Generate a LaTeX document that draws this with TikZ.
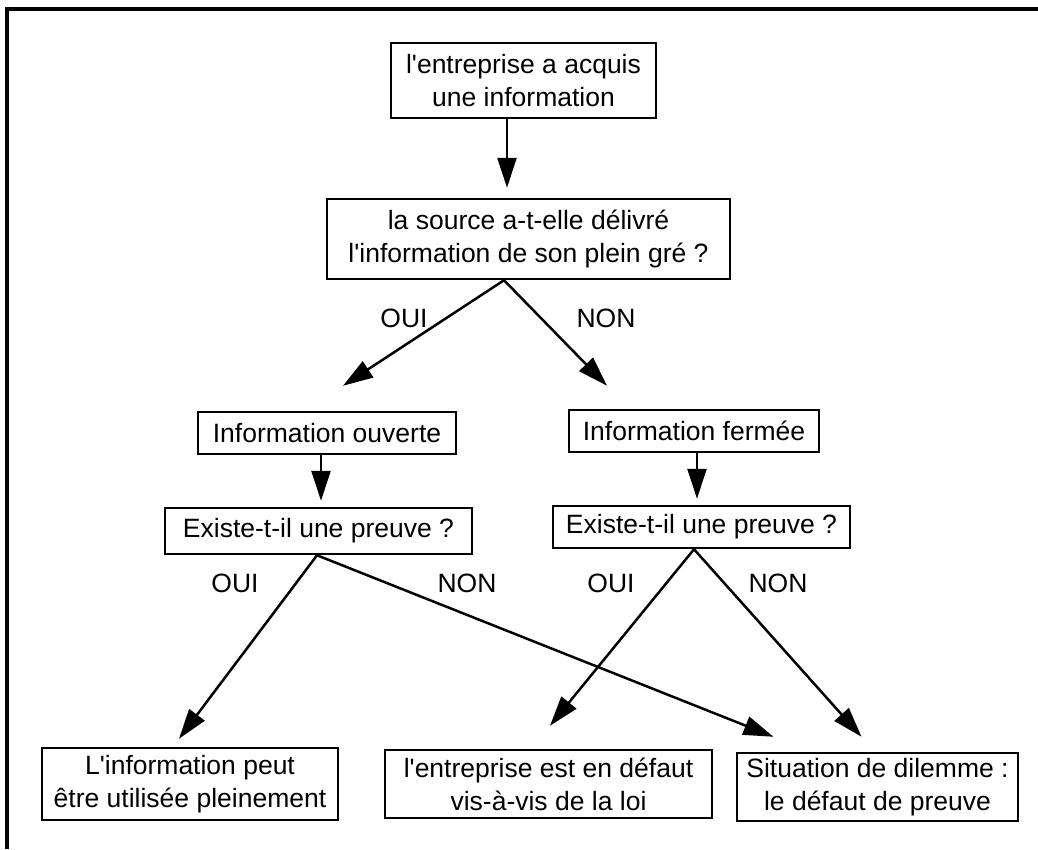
\documentclass[tikz,border=0pt]{standalone}
\usepackage{fontspec}
\newfontfamily\diagfont{Liberation Sans}
\usetikzlibrary{arrows.meta,calc}
\begin{document}
\begin{tikzpicture}[x=1pt,y=-1pt,
  box/.style={draw,line width=2.5pt,align=center,inner sep=0pt,
    font=\diagfont\fontsize{26.5}{33}\selectfont},
  lbl/.style={font=\diagfont\fontsize{26.5}{33}\selectfont,inner sep=0pt},
  flow/.style={line width=2.5pt,-{Triangle[length=30pt,width=19pt]}}]
\useasboundingbox (0,0) rectangle (1038,849);
% frame
\draw[line width=3.5pt] (7,849) -- (7,9) -- (1038,9);

% boxes
\node[box,minimum width=265pt,minimum height=75pt] (b1) at (523.5,80.5)
  {l'entreprise a acquis\\une information};
\node[box,minimum width=403pt,minimum height=80pt] (b2) at (528.5,239)
  {la source a-t-elle délivré\\l'information de son plein gré ?};
\node[box,minimum width=258pt,minimum height=42pt] (b3) at (327,433)
  {Information ouverte};
\node[box,minimum width=307pt,minimum height=46pt] (b4) at (318.5,531)
  {Existe-t-il une preuve ?};
\node[box,minimum width=250pt,minimum height=42pt] (b5) at (694,431)
  {Information fermée};
\node[box,minimum width=297pt,minimum height=42pt] (b6) at (701.5,527)
  {Existe-t-il une preuve ?};
\node[box,minimum width=296pt,minimum height=72pt] (b7) at (190,784)
  {L'information peut\\être utilisée pleinement};
\node[box,minimum width=327pt,minimum height=68pt] (b8) at (548.5,784)
  {l'entreprise est en défaut\\vis-à-vis de la loi};
\node[box,minimum width=281pt,minimum height=68pt] (b9) at (877.5,787)
  {Situation de dilemme :\\le défaut de preuve};

% labels
\node[lbl] (l1) at (404,318) {OUI};
\node[lbl] (l2) at (606,318) {NON};
\node[lbl] (l3) at (235,583) {OUI};
\node[lbl] (l4) at (467,583) {NON};
\node[lbl] (l5) at (611,583) {OUI};
\node[lbl] (l6) at (778,583) {NON};

% connectors
\draw[flow] ($(b1.south)+(-16.5,0)$) -- ($(b2.north)+(-21.5,-10)$);
\draw[flow] ($(b2.south)+(-24.5,0)$) -- ($(b3.north)+(16,-25)$);
\draw[flow] ($(b2.south)+(-24.5,0)$) -- ($(b5.north)+(-87,-23)$);
\draw[flow] ($(b3.south)+(-6,0)$) -- ($(b4.north)+(2.5,-6)$);
\draw[flow] ($(b5.south)+(3,0)$) -- ($(b6.north)+(-4.5,-6)$);
\draw[flow] ($(b4.south)+(-1.5,0)$) -- ($(b7.north)+(-11,-8)$);
\draw[flow] ($(b4.south)+(-1.5,0)$) -- ($(b9.north)+(-104,-15)$);
\draw[flow] ($(b6.south)+(-7.5,0)$) -- ($(b8.north)+(1.5,-23)$);
\draw[flow] ($(b6.south)+(-7.5,0)$) -- ($(b9.north)+(-16,-15)$);
\end{tikzpicture}
\end{document}
